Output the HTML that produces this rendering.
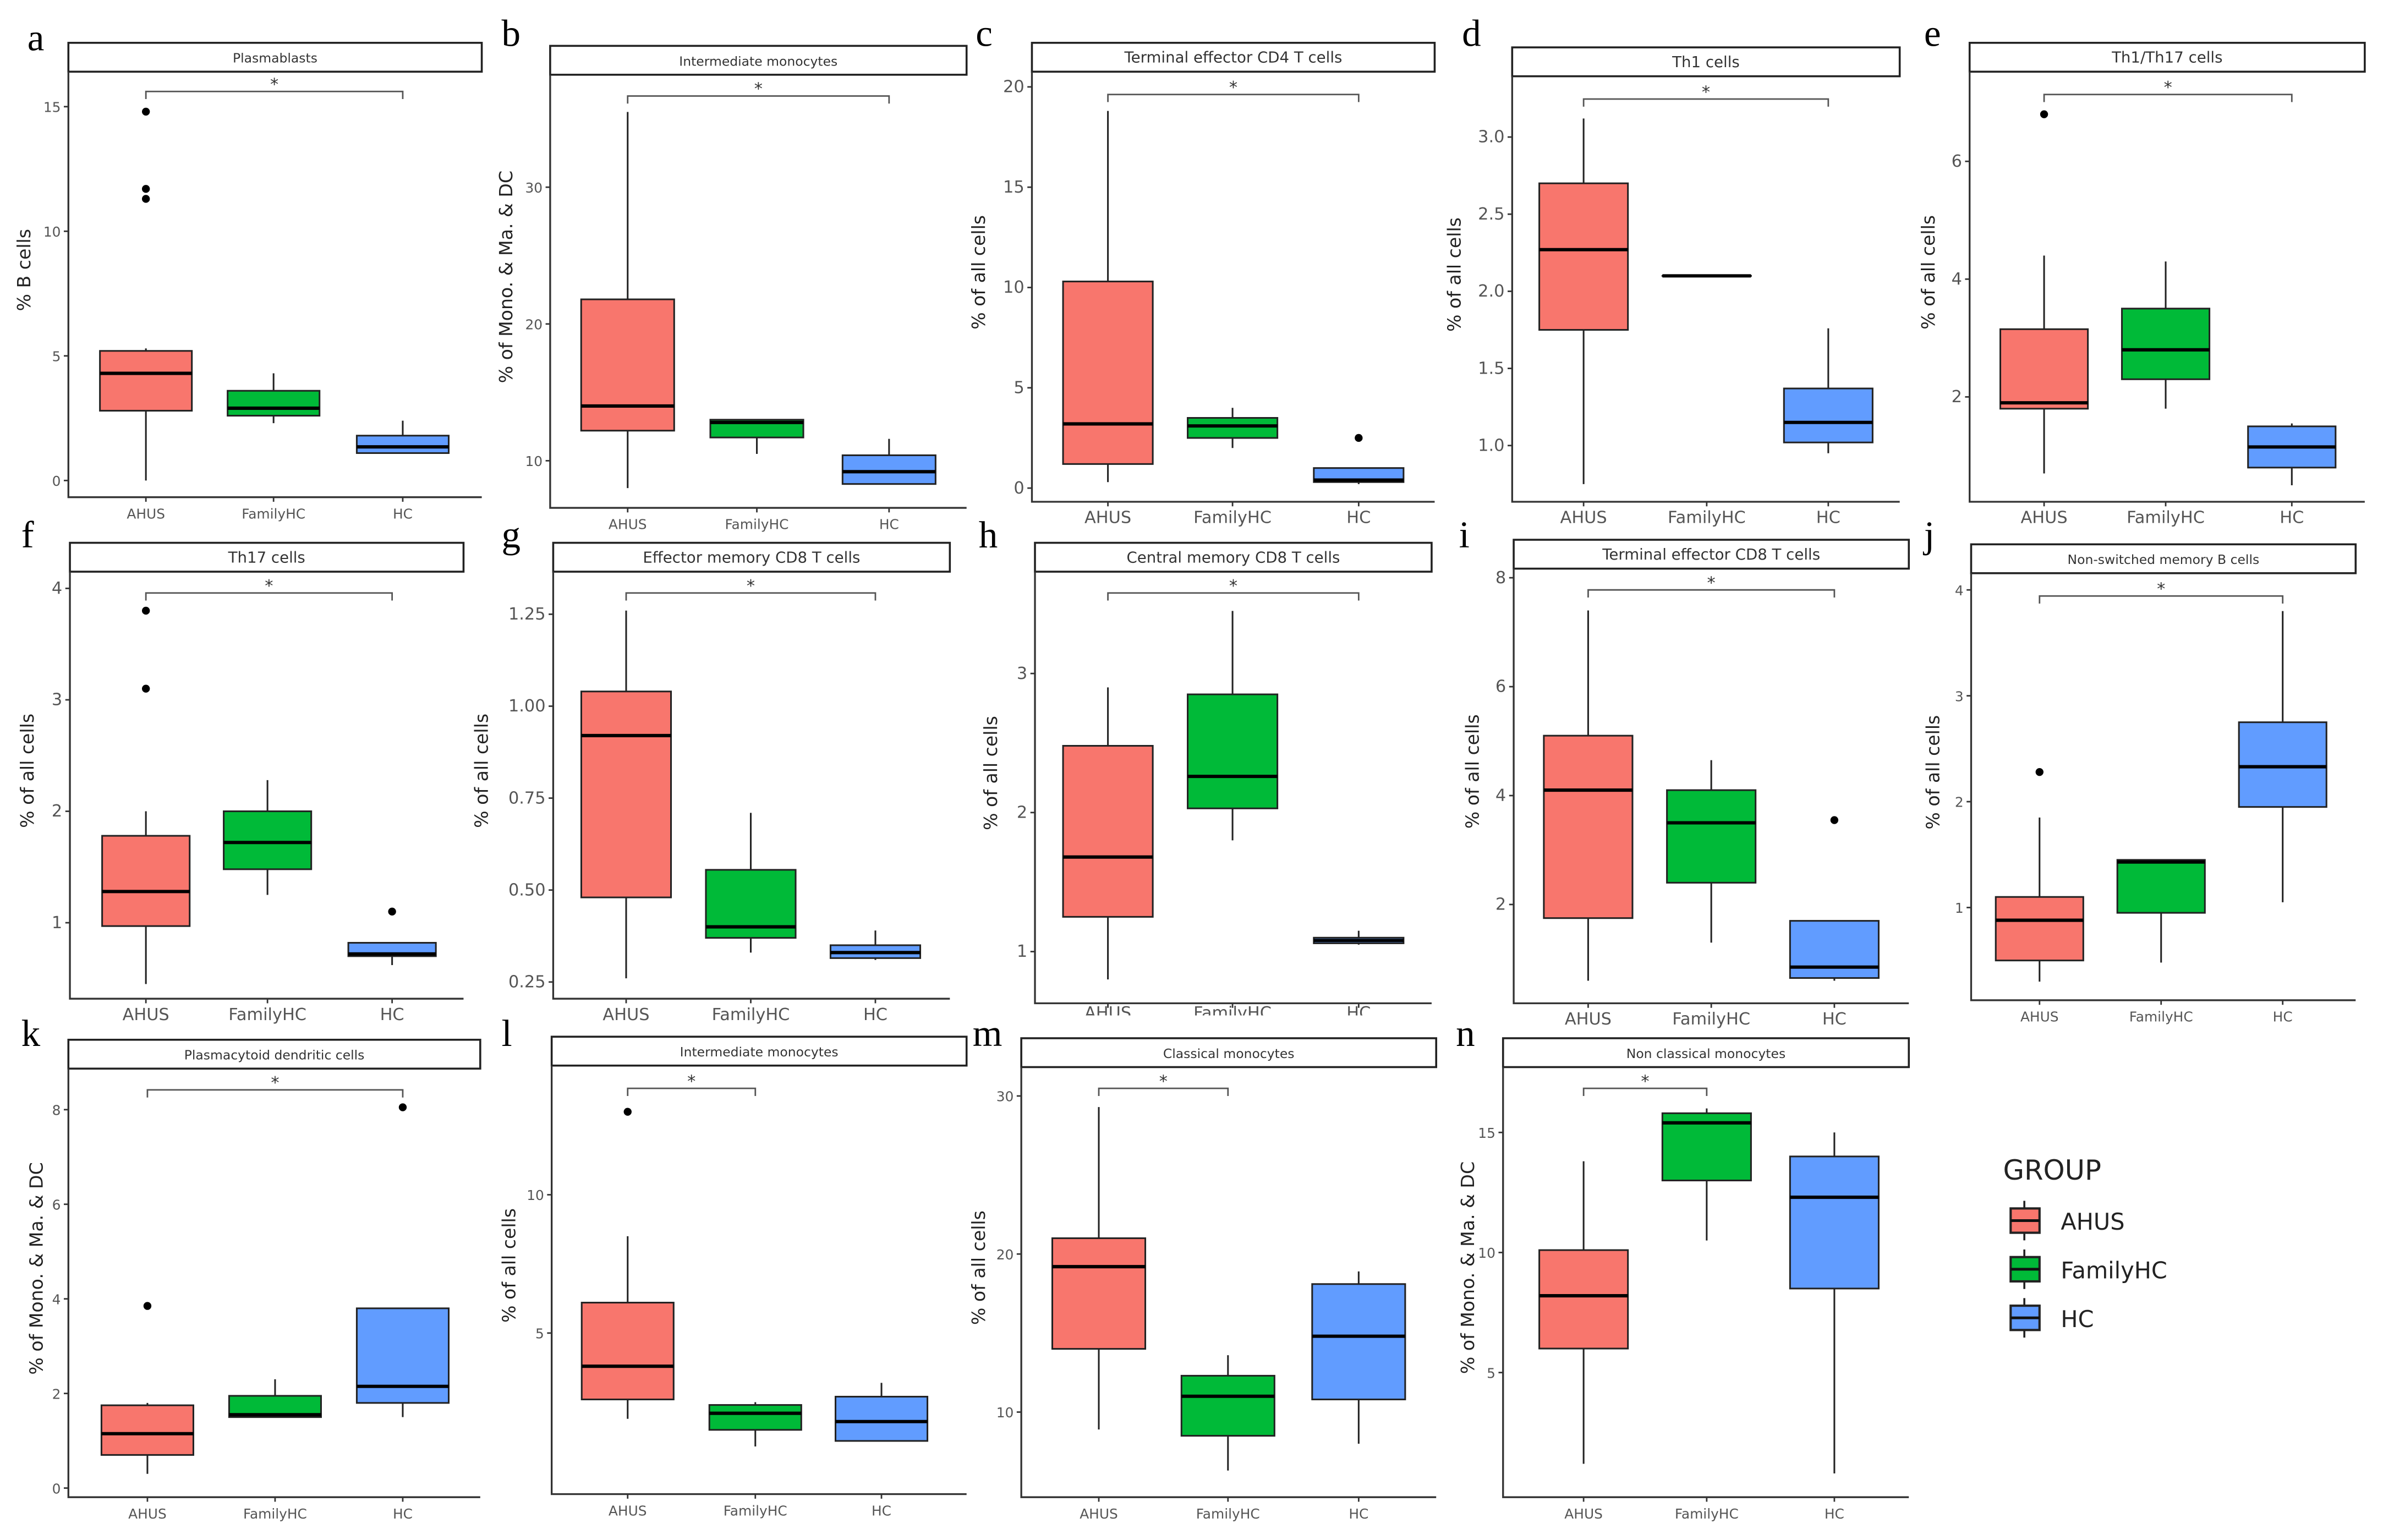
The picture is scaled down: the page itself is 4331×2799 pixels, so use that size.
<!DOCTYPE html>
<html><head><meta charset="utf-8">
<style>
html,body{margin:0;padding:0;background:#fff;}
svg{display:block;}
text{font-family:"DejaVu Sans","Liberation Sans",sans-serif;}
text.serif{font-family:"Liberation Serif","DejaVu Serif",serif;}
</style></head>
<body>
<svg id="fig" width="4331" height="2799" viewBox="0 0 1568 1013" xmlns="http://www.w3.org/2000/svg">
<rect width="1568" height="1013" fill="#fff"/>
</svg>
<script>
// ---- data ----
const categories = ['AHUS','FamilyHC','HC'];
const groupColors = ['#F8766D','#00BA38','#619CFF'];
// [min, q1, median, q3, max] per group
const statsA = [[0,2.8,4.3,5.2,5.3],[2.3,2.6,2.9,3.6,4.3],[1.1,1.1,1.35,1.8,2.4]];
const outA = [[11.3,11.7,14.8],[],[]];
const ticksA = [0,5,10,15];
const statsB = [[8,12.2,14,21.8,35.5],[10.5,11.7,12.8,13,13],[8.3,8.3,9.2,10.4,11.6]];
const outB = [[],[],[]];
const ticksB = [10,20,30];
const statsC = [[0.3,1.2,3.2,10.3,18.8],[2,2.5,3.1,3.5,4],[0.2,0.3,0.4,1,1]];
const outC = [[],[],[2.5]];
const ticksC = [0,5,10,15,20];
const statsD = [[0.75,1.75,2.27,2.7,3.12],[2.1,2.1,2.1,2.1,2.1],[0.95,1.02,1.15,1.37,1.76]];
const outD = [[],[],[]];
const ticksD = [1.0,1.5,2.0,2.5,3.0];
const statsE = [[0.7,1.8,1.9,3.15,4.4],[1.8,2.3,2.8,3.5,4.3],[0.5,0.8,1.15,1.5,1.55]];
const outE = [[6.8],[],[]];
const ticksE = [2,4,6];
const statsF = [[0.45,0.97,1.28,1.78,2],[1.25,1.48,1.72,2,2.28],[0.62,0.7,0.72,0.82,0.82]];
const outF = [[3.1,3.8],[],[1.1]];
const ticksF = [1,2,3,4];
const statsG = [[0.26,0.48,0.92,1.04,1.26],[0.33,0.37,0.4,0.555,0.71],[0.31,0.315,0.33,0.35,0.39]];
const outG = [[],[],[]];
const ticksG = [0.25,0.5,0.75,1.0,1.25];
const statsH = [[0.8,1.25,1.68,2.48,2.9],[1.8,2.03,2.26,2.85,3.45],[1.05,1.06,1.08,1.1,1.15]];
const outH = [[],[],[]];
const ticksH = [1,2,3];
const statsI = [[0.6,1.75,4.1,5.1,7.4],[1.3,2.4,3.5,4.1,4.65],[0.6,0.65,0.85,1.7,1.7]];
const outI = [[],[],[3.55]];
const ticksI = [2,4,6,8];
const statsJ = [[0.3,0.5,0.88,1.1,1.85],[0.48,0.95,1.43,1.45,1.45],[1.05,1.95,2.33,2.75,3.8]];
const outJ = [[2.28],[],[]];
const ticksJ = [1,2,3,4];
const statsK = [[0.3,0.7,1.15,1.75,1.8],[1.5,1.5,1.55,1.95,2.3],[1.5,1.8,2.15,3.8,3.8]];
const outK = [[3.85],[],[8.05]];
const ticksK = [0,2,4,6,8];
const statsL = [[1.9,2.6,3.8,6.1,8.5],[0.9,1.5,2.1,2.4,2.5],[1.1,1.1,1.8,2.7,3.2]];
const outL = [[13],[],[]];
const ticksL = [5,10];
const statsM = [[8.9,14,19.2,21,29.3],[6.3,8.5,11,12.3,13.6],[8,10.8,14.8,18.1,18.9]];
const outM = [[],[],[]];
const ticksM = [10,20,30];
const statsN = [[1.2,6,8.2,10.1,13.8],[10.5,13,15.4,15.8,16],[0.8,8.5,12.3,14,15]];
const outN = [[],[],[]];
const ticksN = [5,10,15];

// ---- layout (pixel geometry, not data) ----
const panels = [
 {k:'a',st:statsA,o:outA,t:ticksA,dp:0,title:'Plasmablasts',lx:18,ly:33,s:[45,317,28],axL:45,axB:327,gx:[96,180,265],ref:[0,316,15,70],yt:'% B cells',ytx:20,sig:[0,2,60],fs:8.5,ls:9},
 {k:'b',st:statsB,o:outB,t:ticksB,dp:0,title:'Intermediate monocytes',lx:330,ly:30,s:[362,636,30],axL:362,axB:334,gx:[413,498,585],ref:[10,303,30,123],yt:'% of Mono. & Ma. & DC',ytx:337,sig:[0,2,63],fs:8.5,ls:9},
 {k:'c',st:statsC,o:outC,t:ticksC,dp:0,title:'Terminal effector CD4 T cells',lx:642,ly:30,s:[679,944,28],axL:679,axB:330,gx:[729,811,894],ref:[0,321,20,57],yt:'% of all cells',ytx:648,sig:[0,2,62],fs:10,ls:11},
 {k:'d',st:statsD,o:outD,t:ticksD,dp:1,title:'Th1 cells',lx:962,ly:30,s:[995,1250,31],axL:995,axB:330,gx:[1042,1123,1203],ref:[1,293,3,90],yt:'% of all cells',ytx:961,sig:[0,2,65],fs:10,ls:11},
 {k:'e',st:statsE,o:outE,t:ticksE,dp:0,title:'Th1/Th17 cells',lx:1266,ly:30,s:[1296,1556,28],axL:1296,axB:330,gx:[1345,1425,1508],ref:[2,261,6,106],yt:'% of all cells',ytx:1273,sig:[0,2,62],fs:10,ls:11},
 {k:'f',st:statsF,o:outF,t:ticksF,dp:0,title:'Th17 cells',lx:14,ly:360,s:[46,305,357],axL:46,axB:657,gx:[96,176,258],ref:[1,607,4,387],yt:'% of all cells',ytx:22,sig:[0,2,390],fs:10,ls:11},
 {k:'g',st:statsG,o:outG,t:ticksG,dp:2,title:'Effector memory CD8 T cells',lx:330,ly:360,s:[364,625,357],axL:364,axB:657,gx:[412,494,576],ref:[0.25,646,1.25,404],yt:'% of all cells',ytx:321,sig:[0,2,390],fs:10,ls:11},
 {k:'h',st:statsH,o:outH,t:ticksH,dp:0,title:'Central memory CD8 T cells',lx:644,ly:360,s:[681,942,357],axL:681,axB:660,gx:[729,811,894],ref:[1,626,3,443],yt:'% of all cells',ytx:656,sig:[0,2,390],fs:10,ls:11,clip:true},
 {k:'i',st:statsI,o:outI,t:ticksI,dp:0,title:'Terminal effector CD8 T cells',lx:960,ly:360,s:[996,1256,355],axL:996,axB:660,gx:[1045,1126,1207],ref:[2,595,8,380],yt:'% of all cells',ytx:973,sig:[0,2,388],fs:10,ls:11},
 {k:'j',st:statsJ,o:outJ,t:ticksJ,dp:0,title:'Non-switched memory B cells',lx:1266,ly:360,s:[1297,1550,358],axL:1297,axB:658,gx:[1342,1422,1502],ref:[1,597,4,388],yt:'% of all cells',ytx:1276,sig:[0,2,392],fs:8.5,ls:9},
 {k:'k',st:statsK,o:outK,t:ticksK,dp:0,title:'Plasmacytoid dendritic cells',lx:14,ly:688,s:[45,316,684],axL:45,axB:985,gx:[97,181,265],ref:[0,979,8,730],yt:'% of Mono. & Ma. & DC',ytx:28,sig:[0,2,717],fs:8.5,ls:9},
 {k:'l',st:statsL,o:outL,t:ticksL,dp:0,title:'Intermediate monocytes',lx:330,ly:688,s:[363,636,682],axL:363,axB:983,gx:[413,497,580],ref:[5,877,10,786],yt:'% of all cells',ytx:339,sig:[0,1,716],fs:8.5,ls:9},
 {k:'m',st:statsM,o:outM,t:ticksM,dp:0,title:'Classical monocytes',lx:640,ly:688,s:[672,945,683],axL:672,axB:985,gx:[723,808,894],ref:[10,929,30,721],yt:'% of all cells',ytx:648,sig:[0,1,716],fs:8.5,ls:9},
 {k:'n',st:statsN,o:outN,t:ticksN,dp:0,title:'Non classical monocytes',lx:958,ly:688,s:[989,1256,683],axL:989,axB:985,gx:[1042,1123,1207],ref:[5,903,15,745],yt:'% of Mono. & Ma. & DC',ytx:970,sig:[0,1,716],fs:8.5,ls:9}
];

const NS='http://www.w3.org/2000/svg';
const svg=document.getElementById('fig');
function mk(tag,attrs,parent,txt){const e=document.createElementNS(NS,tag);for(const a in attrs)e.setAttribute(a,attrs[a]);if(txt!==undefined)e.textContent=txt;parent.appendChild(e);return e;}

panels.forEach(p=>{
  const g=mk('g',{},svg);
  
  
  const yS=v=>p.ref[1]+(v-p.ref[0])*(p.ref[3]-p.ref[1])/(p.ref[2]-p.ref[0]);
  const lt=mk('text',{x:p.lx,y:p.ly,'font-size':25,'class':'serif',fill:'#000'},g,p.k);
  
  
  const sr=mk('rect',{x:p.s[0],y:p.s[2],width:p.s[1]-p.s[0],height:19,fill:'#fff',stroke:'#222','stroke-width':1.3},g);
  
  
  const stt=mk('text',{x:(p.s[0]+p.s[1])/2,y:p.s[2]+13,'font-size':p.fs,'text-anchor':'middle',fill:'#333'},g,p.title);
  
  
  const ax=mk('path',{d:`M${p.axL},${p.s[2]+19}V${p.axB}H${p.s[1]}`,fill:'none',stroke:'#333','stroke-width':1.2},g);
  
  
  p.t.forEach(v=>{
    const y=yS(v);
    mk('line',{x1:p.axL-3,x2:p.axL,y1:y,y2:y,stroke:'#333','stroke-width':1},g);
    const tl=mk('text',{x:p.axL-5,y:y+3.5,'font-size':p.ls,'text-anchor':'end',fill:'#555'},g,v.toFixed(p.dp));
    
    
  });
  const yt=mk('text',{x:p.ytx,y:(p.s[2]+p.axB)/2,'font-size':12,'text-anchor':'middle',fill:'#222',transform:`rotate(-90 ${p.ytx} ${(p.s[2]+p.axB)/2})`},g,p.yt);
  
  
  const sp=p.gx[1]-p.gx[0];
  const bw=sp*0.72;
  categories.forEach((c,i)=>{
    const x=p.gx[i], s=p.st[i];
    mk('line',{x1:x,x2:x,y1:p.axB,y2:p.axB+3,stroke:'#333','stroke-width':1},g);
    const xl=mk('text',{x:x,y:p.axB+(p.clip?10:14),'font-size':p.ls,'text-anchor':'middle',fill:'#555'},g,c);
    
    
    const wh=mk('line',{x1:x,x2:x,y1:yS(s[0]),y2:yS(s[4]),stroke:'#222','stroke-width':1.1},g);
    
    
    const bx=mk('rect',{x:x-bw/2,y:yS(s[3]),width:bw,height:Math.max(yS(s[1])-yS(s[3]),0.01),fill:groupColors[i],stroke:'#222','stroke-width':1.1},g);
    
    
    const md=mk('line',{x1:x-bw/2,x2:x+bw/2,y1:yS(s[2]),y2:yS(s[2]),stroke:'#000','stroke-width':2.2},g);
    
    
    p.o[i].forEach(v=>{
      const pt=mk('circle',{cx:x,cy:yS(v),r:2.6,fill:'#000'},g);
      
      
    });
  });
  if(p.clip){mk('rect',{x:p.axL+1,y:p.axB+8,width:p.s[1]-p.axL,height:10,fill:'#fff'},g);}
  const x1=p.gx[p.sig[0]], x2=p.gx[p.sig[1]], by=p.sig[2];
  const br=mk('path',{d:`M${x1},${by+5}V${by}H${x2}V${by+5}`,fill:'none',stroke:'#555','stroke-width':1},g);
  
  
  const st=mk('text',{x:(x1+x2)/2,y:by-1,'font-size':11,'text-anchor':'middle',fill:'#333'},g,'*');
  
  
});

const lg=mk('g',{},svg);


const lgt=mk('text',{x:1318,y:776,'font-size':18,fill:'#222'},lg,'GROUP');


categories.forEach((c,i)=>{
  const y=803+i*32;
  const e=mk('g',{},lg);
  
  
  mk('line',{x1:1332,x2:1332,y1:y-13,y2:y+13,stroke:'#222','stroke-width':1.3},e);
  mk('rect',{x:1323,y:y-8,width:19,height:16,fill:groupColors[i],stroke:'#222','stroke-width':1.5},e);
  mk('line',{x1:1323,x2:1342,y1:y,y2:y,stroke:'#111','stroke-width':1.8},e);
  mk('text',{x:1356,y:y+6,'font-size':15,fill:'#222'},e,c);
});
</script>
</body></html>
